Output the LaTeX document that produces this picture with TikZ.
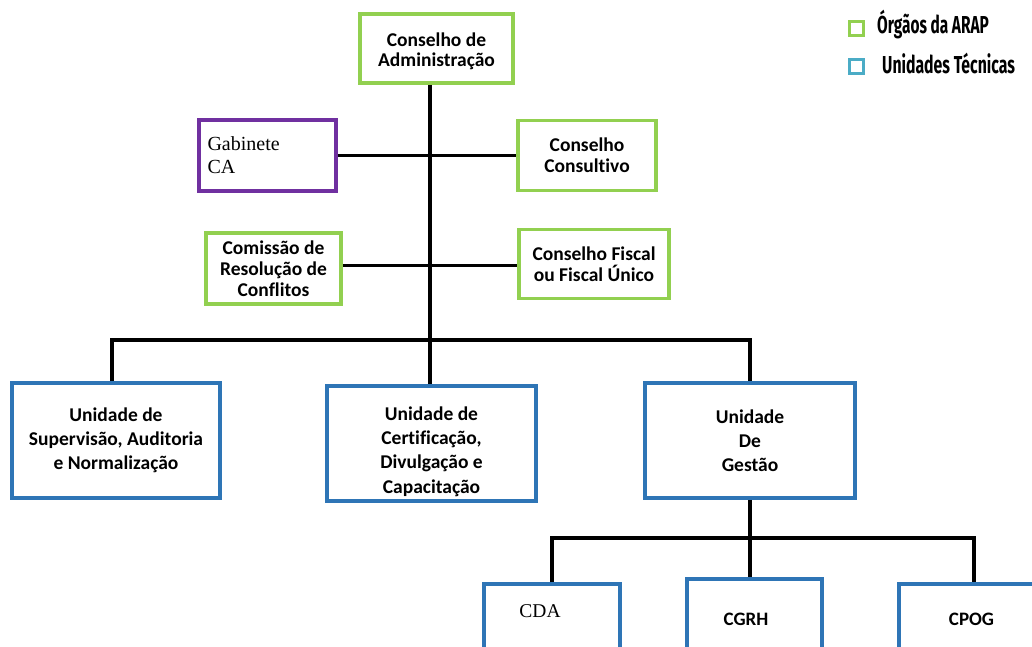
\documentclass[tikz,border=0pt]{standalone}
\usepackage{fontspec}
\usepackage{graphicx}
\setmainfont{Carlito}[Ligatures=NoCommon]
\newfontfamily\serifrm{Liberation Serif}
\newfontfamily\legfont{Fira Sans}
\usetikzlibrary{calc}
\definecolor{orggreen}{RGB}{146,208,80}
\definecolor{unitblue}{RGB}{46,117,182}
\definecolor{legblue}{RGB}{75,172,198}
\definecolor{cabpurple}{RGB}{112,48,160}
\begin{document}
\begin{tikzpicture}[x=1pt,y=-1pt,
  box/.style={draw, line width=3.5pt, align=center, inner sep=0pt,
    font=\fontsize{19.5}{20.8}\selectfont\bfseries},
  bigtext/.style={font=\fontsize{19.5}{24.2}\selectfont\bfseries},
  gbox/.style={box, draw=orggreen},
  bbox/.style={box, draw=unitblue},
  link/.style={line width=3.2pt, draw=black},
  lbl/.style={inner sep=0pt},
  legsq/.style={draw, line width=3pt, minimum size=14, inner sep=0pt},
  legtxt/.style={inner sep=0pt, anchor=base west, font=\legfont\bfseries\fontsize{24.5}{24.5}\selectfont}]
\useasboundingbox (0,0) rectangle (1032,646);
\clip (0,0) rectangle (1032,646);
\fill[white] (0,0) rectangle (1032,646);

% top level
\node[gbox, minimum width=153, minimum height=69] (ca) at (436.5,48.5) {};
\node[lbl, align=center, font=\fontsize{19.5}{19.8}\selectfont\bfseries] (cat) at (436.5,51) {Conselho de\\Administração};
\node[box, draw=cabpurple, minimum width=137, minimum height=71, text width=120, align=left,
  font=\serifrm\fontsize{20}{23}\selectfont] (gab) at (267.5,155.5) {Gabinete\\CA};
\node[gbox, minimum width=138, minimum height=70] (cc) at (587,155.5) {Conselho\\Consultivo};
\node[gbox, minimum width=135, minimum height=71] (crc) at (273.5,268.5) {Comissão de\\Resolução de\\Conflitos};
\node[gbox, minimum width=150, minimum height=69, font=\fontsize{19.5}{21.5}\selectfont\bfseries] (cf) at (594,264) {Conselho Fiscal\\ou Fiscal Único};

% units
\node[bbox, bigtext, minimum width=208, minimum height=115] (usa) at (116,440.5) {Unidade de\\Supervisão, Auditoria\\e Normalização};
\node[bbox, minimum width=209, minimum height=115] (ucd) at (431.5,443.5) {};
\node[lbl, bigtext, align=center] (ucdt) at (431.5,451.5) {Unidade de\\Certificação,\\Divulgação e\\Capacitação};
\node[bbox, bigtext, minimum width=210, minimum height=115] (ug) at (750,440.5) {Unidade\\De\\Gestão};

% sub units (cut by the lower edge)
\node[bbox, minimum width=136, minimum height=80] (cda) at (552,624) {};
\node[bbox, minimum width=135, minimum height=80] (cgrh) at (754.5,619) {};
\node[bbox, minimum width=150, minimum height=80] (cpog) at (974,624) {};
\node[lbl, font=\serifrm\fontsize{19.5}{20}\selectfont] (cdat) at (540,611.5) {CDA};
\node[lbl, font=\fontsize{19}{20}\selectfont\bfseries] (cgrht) at (746,619) {CGRH};
\node[lbl, font=\fontsize{19}{20}\selectfont\bfseries] (cpogt) at (971.5,619) {CPOG};

% connectors
\coordinate (tx) at (430,0);
\coordinate (r1) at (0,155.7);
\coordinate (r2) at (0,265.7);
\coordinate (d1) at (112,340);
\coordinate (bar2) at (0,538);
\draw[link] (ca.south -| tx) -- (ucd.north -| tx);
\draw[link] (gab.east |- r1) -- (cc.west |- r1);
\draw[link] (crc.east |- r2) -- (cf.west |- r2);
\draw[link] (d1 |- usa.north) -- (d1) -- (d1 -| ug.north) -- (ug.north);
\draw[link] (ug.south) -- (ug.south |- cgrh.north);
\draw[link] (cda.north) -- (cda.north |- bar2) -- (cpog.north |- bar2) -- (cpog.north);

% legend
\node[legsq, draw=orggreen] (lg) at (856.5,28) {};
\node[legsq, draw=legblue] (lb) at (856.5,66.5) {};
\node[legtxt] (lgt) at (877,33) {\scalebox{0.63}[1]{Órgãos da ARAP}};
\node[legtxt] (lbt) at (882,73) {\scalebox{0.645}[1]{Unidades Técnicas}};
\end{tikzpicture}
\end{document}
